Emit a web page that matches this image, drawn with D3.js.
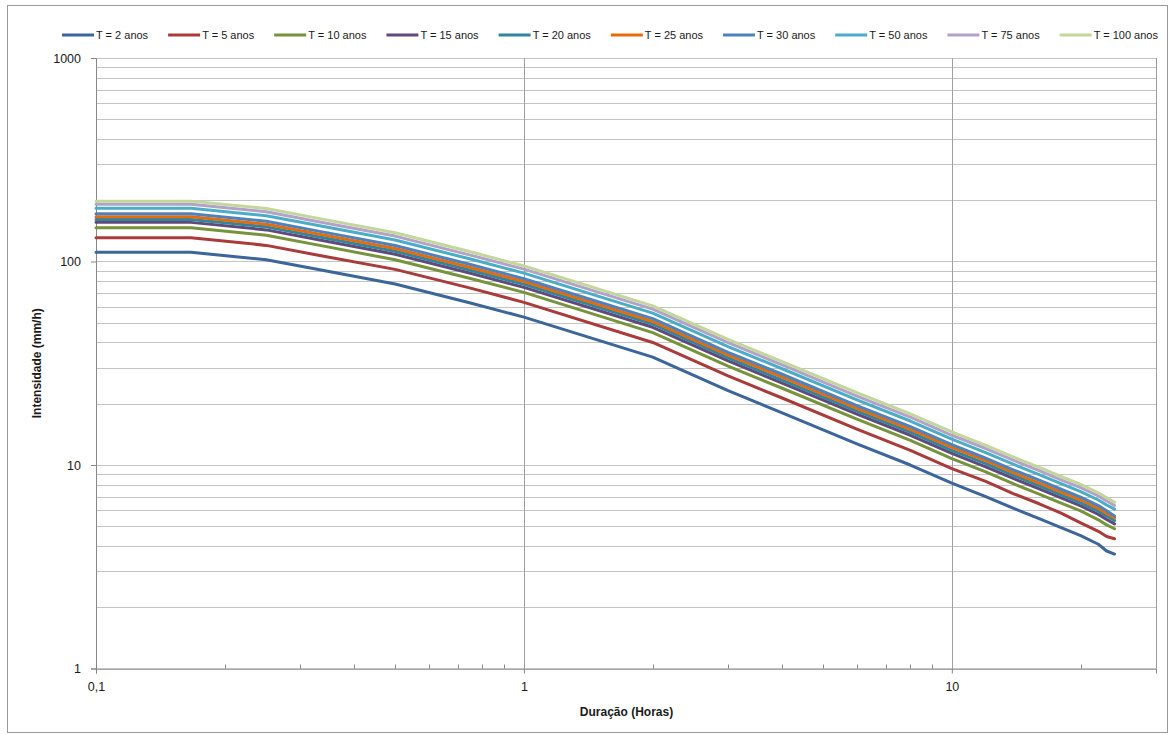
<!DOCTYPE html>
<html>
<head>
    <meta charset="utf-8">
    <script type="text/javascript" src="https://cdn.jsdelivr.net/npm/d3@7/dist/d3.min.js"></script>
    <style>
        body { margin: 0; background: #fff; }
        text { font-family: "Liberation Sans", Arial, sans-serif; fill: #1a1a1a; }
    </style>
</head>
<body>
    <div id="viz"></div>
    <script type="text/javascript">

    // durations in hours, intensities in mm/h
    var durations = [0.1, 0.1667, 0.25, 0.3333, 0.5, 0.75, 1, 2, 3, 4, 6, 8, 10, 12, 14, 16, 18, 20, 22, 23, 24];

    var t2   = [111, 111, 102, 91, 77.5, 62.5, 53.3, 33.9, 23.2, 18.1, 12.7, 10.0, 8.15, 7.0, 6.1, 5.45, 4.92, 4.5, 4.08, 3.78, 3.65];
    var t5   = [131, 131, 120, 107, 91.5, 74, 63, 40, 27.4, 21.4, 15.0, 11.8, 9.6, 8.3, 7.2, 6.45, 5.8, 5.2, 4.72, 4.45, 4.34];
    var t10  = [146.5, 146.5, 134.5, 120, 102, 82.5, 70.5, 44.7, 30.6, 23.9, 16.8, 13.2, 10.75, 9.25, 8.05, 7.2, 6.5, 5.95, 5.38, 5.08, 4.86];
    var t15  = [155.7, 155.7, 143, 127.5, 108.5, 87.5, 74.6, 47.5, 32.5, 25.3, 17.8, 14.0, 11.4, 9.8, 8.55, 7.63, 6.9, 6.3, 5.72, 5.4, 5.14];
    var t20  = [161, 161, 148, 132, 112.3, 90.6, 77.3, 49.2, 33.6, 26.2, 18.4, 14.5, 11.8, 10.15, 8.85, 7.9, 7.13, 6.52, 5.93, 5.6, 5.34];
    var t25  = [166, 166, 152.5, 136, 115.8, 93.4, 79.7, 50.7, 34.7, 27.1, 19.0, 14.95, 12.2, 10.5, 9.12, 8.15, 7.35, 6.73, 6.12, 5.78, 5.5];
    var t30  = [171.7, 171.7, 157.6, 140.6, 119.8, 96.6, 82.3, 52.4, 35.8, 28.0, 19.6, 15.45, 12.6, 10.8, 9.42, 8.42, 7.6, 6.95, 6.32, 5.96, 5.62];
    var t50  = [182.5, 182.5, 167.8, 149.7, 127.5, 102.8, 87.7, 55.8, 38.2, 29.8, 20.9, 16.45, 13.4, 11.5, 10.03, 8.97, 8.1, 7.4, 6.73, 6.36, 6.07];
    var t75  = [191, 191, 175.4, 156.5, 133.3, 107.5, 91.7, 58.3, 39.9, 31.1, 21.8, 17.2, 14.0, 12.05, 10.5, 9.38, 8.46, 7.74, 7.04, 6.65, 6.32];
    var t100 = [198, 198, 182, 162.4, 138.4, 111.6, 95.1, 60.5, 41.4, 32.3, 22.7, 17.85, 14.55, 12.5, 10.9, 9.73, 8.78, 8.03, 7.3, 6.9, 6.55];

    var seriesNames = ["T = 2 anos", "T = 5 anos", "T = 10 anos", "T = 15 anos", "T = 20 anos",
                       "T = 25 anos", "T = 30 anos", "T = 50 anos", "T = 75 anos", "T = 100 anos"];
    var seriesValues = [t2, t5, t10, t15, t20, t25, t30, t50, t75, t100];
    var seriesColors = ["#3b659b", "#a93b3a", "#77933c", "#604a7b", "#31859c",
                        "#e46c0a", "#4f81bd", "#4bacc6", "#b3a2c7", "#c3d69b"];

    var xTickLabels = ["0,1", "1", "10"];
    var xTicks = [0.1, 1, 10];
    var yTicks = [1, 10, 100, 1000];

    var width = 1174, height = 735;
    var plotLeft = 96, plotRight = 1156, plotTop = 58, plotBottom = 668.5;

    var svg = d3.select("#viz").append("svg")
        .attr("width", width)
        .attr("height", height);

    // outer chart border
    svg.append("rect")
        .attr("x", 7.5).attr("y", 5.5)
        .attr("width", 1160).attr("height", 727)
        .attr("fill", "#fff")
        .attr("stroke", "#9a9a9a");

    var x = d3.scaleLog().domain([0.1, 30]).range([plotLeft, plotRight]);
    var y = d3.scaleLog().domain([1, 1000]).range([plotBottom, plotTop]);

    // horizontal grid at every log tick
    svg.append("g").selectAll("line")
        .data(y.ticks())
        .enter().append("line")
        .attr("x1", plotLeft).attr("x2", plotRight)
        .attr("y1", function (d) { return Math.round(y(d)) + 0.5; })
        .attr("y2", function (d) { return Math.round(y(d)) + 0.5; })
        .attr("stroke", "#c4c4c4")
        .attr("stroke-width", 1);

    // vertical grid at decades only
    svg.append("g").selectAll("line")
        .data([1, 10])
        .enter().append("line")
        .attr("x1", function (d) { return Math.round(x(d)) + 0.5; })
        .attr("x2", function (d) { return Math.round(x(d)) + 0.5; })
        .attr("y1", plotTop).attr("y2", plotBottom)
        .attr("stroke", "#a0a0a0")
        .attr("stroke-width", 1);

    // plot frame: right side
    svg.append("line")
        .attr("x1", plotRight + 0.5).attr("x2", plotRight + 0.5)
        .attr("y1", plotTop).attr("y2", plotBottom)
        .attr("stroke", "#9a9a9a");

    // minor x ticks pointing up
    svg.append("g").selectAll("line")
        .data(x.ticks().filter(function (d) {
            var l = Math.log10(d);
            return Math.abs(l - Math.round(l)) > 1e-6 && d < 30;
        }))
        .enter().append("line")
        .attr("x1", function (d) { return Math.round(x(d)) + 0.5; })
        .attr("x2", function (d) { return Math.round(x(d)) + 0.5; })
        .attr("y1", plotBottom).attr("y2", plotBottom - 4)
        .attr("stroke", "#868686");

    var xAxis = svg.append("g")
        .attr("transform", "translate(0," + plotBottom + ")")
        .call(d3.axisBottom(x)
            .tickValues(xTicks)
            .tickSize(5)
            .tickPadding(9)
            .tickFormat(function (d, i) { return xTickLabels[i]; }));

    var yAxis = svg.append("g")
        .attr("transform", "translate(" + plotLeft + ",0)")
        .call(d3.axisLeft(y)
            .tickValues(yTicks)
            .tickSize(5)
            .tickPadding(10)
            .tickFormat(d3.format("d")));

    [xAxis, yAxis].forEach(function (a) {
        a.select(".domain").attr("stroke", "#868686");
        a.selectAll(".tick line").attr("stroke", "#868686");
        a.selectAll(".tick text")
            .attr("fill", "#1a1a1a")
            .style("font-size", "12.5px")
            .style("font-family", "'Liberation Sans', Arial, sans-serif");
    });

    // series lines
    var line = d3.line()
        .x(function (d) { return x(d[0]); })
        .y(function (d) { return y(d[1]); });

    svg.append("g").selectAll("path")
        .data(seriesValues)
        .enter().append("path")
        .attr("d", function (vals) {
            return line(durations.map(function (t, i) { return [t, vals[i]]; }));
        })
        .attr("fill", "none")
        .attr("stroke", function (d, i) { return seriesColors[i]; })
        .attr("stroke-width", 3)
        .attr("stroke-linejoin", "round")
        .attr("stroke-linecap", "round");

    // axis titles
    svg.append("text")
        .attr("x", (plotLeft + plotRight) / 2 + 0.5)
        .attr("y", 716)
        .attr("text-anchor", "middle")
        .style("font-size", "12px")
        .style("font-weight", "bold")
        .text("Duração (Horas)");

    svg.append("text")
        .attr("transform", "translate(41," + ((plotTop + plotBottom) / 2) + ") rotate(-90)")
        .attr("text-anchor", "middle")
        .style("font-size", "12px")
        .style("font-weight", "bold")
        .text("Intensidade (mm/h)");

    // legend, laid out from text widths
    var legend = svg.append("g");
    var legX = 0;
    var legGap = 20;
    seriesNames.forEach(function (name, i) {
        var item = legend.append("g").attr("transform", "translate(" + legX + ",0)");
        item.append("line")
            .attr("x1", 0).attr("x2", 32)
            .attr("y1", 0).attr("y2", 0)
            .attr("stroke", seriesColors[i])
            .attr("stroke-width", 3);
        var txt = item.append("text")
            .attr("x", 34)
            .attr("y", 4)
            .style("font-size", "11px")
            .text(name);
        legX += 34 + txt.node().getComputedTextLength() + legGap;
    });
    var legW = legX - legGap;
    legend.attr("transform", "translate(" + (610 - legW / 2) + ",35)");

    </script>
</body>
</html>
